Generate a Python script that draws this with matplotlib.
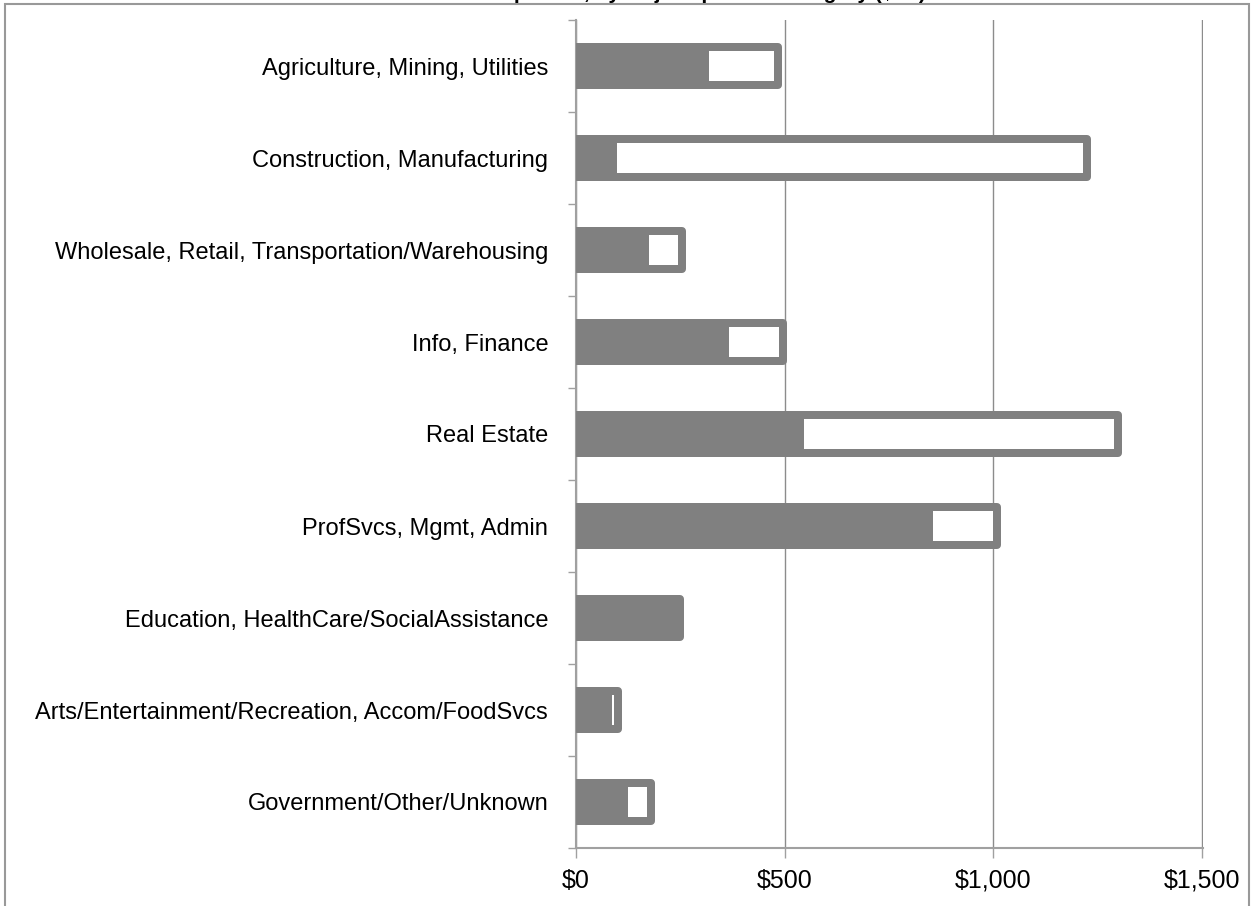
import matplotlib.pyplot as plt
from matplotlib.patches import Rectangle

categories = [
    "Agriculture, Mining, Utilities",
    "Construction, Manufacturing",
    "Wholesale, Retail, Transportation/Warehousing",
    "Info, Finance",
    "Real Estate",
    "ProfSvcs, Mgmt, Admin",
    "Education, HealthCare/SocialAssistance",
    "Arts/Entertainment/Recreation, Accom/FoodSvcs",
    "Government/Other/Unknown",
]
base_values = [309, 89, 166, 358, 537, 846, 243, 77, 115]
extra_values = [175, 1135, 88, 137, 762, 163, 6, 23, 65]
x_ticks = [0, 500, 1000, 1500]
x_labels = ["$0", "$500", "$1,000", "$1,500"]
title = "Total Exposure, by Major Sponsor Category ($bn)"

plt.rcParams['font.family'] = ['Liberation Sans Narrow', 'Liberation Sans', 'DejaVu Sans']

W, H = 1255, 906
fig = plt.figure(figsize=(W / 100, H / 100), dpi=100)
ax = fig.add_axes([576 / W, 1 - 848 / H, (1203 - 576) / W, (848 - 20) / H])

grey = '#808080'
ypos = list(range(len(categories)))
lw = 8 * 72 / 100
ax.barh(ypos, base_values, height=0.42, color=grey, edgecolor=grey,
        linewidth=lw, joinstyle='round', zorder=3)
ax.barh(ypos, extra_values, left=base_values, height=0.42, color='white',
        edgecolor=grey, linewidth=lw, joinstyle='round', zorder=3)

ax.set_xlim(0, 1502)
ax.set_ylim(len(categories) - 0.5, -0.5)
ax.set_xticks(x_ticks)
ax.set_xticklabels(x_labels, fontsize=18)
ax.set_yticks(ypos)
ax.set_yticklabels(categories, fontsize=17)
ax.tick_params(axis='y', length=0, pad=20)
ax.set_yticks([i + 0.5 for i in range(-1, len(categories))], minor=True)
ax.tick_params(axis='y', which='minor', length=6, color='#a0a0a0', width=1)
ax.tick_params(axis='x', length=7, color='#a0a0a0', width=1, pad=8)
ax.xaxis.grid(True, color='#8c8c8c', linewidth=1)
ax.set_axisbelow(True)
for s in ['top', 'right']:
    ax.spines[s].set_visible(False)
for s in ['left', 'bottom']:
    ax.spines[s].set_color('#a0a0a0')
    ax.spines[s].set_linewidth(1.5)

# outer chart frame, title sits above the visible area like in the source
fig.patches.append(Rectangle((5 / W, -0.1), (1249 - 5) / W, 1.1 - 4 / H,
                             transform=fig.transFigure, fill=False,
                             edgecolor='#999999', linewidth=1.5))
fig.text(680 / W, 1 + 1 / H, title, ha='center', va='baseline',
         fontsize=15, fontweight='bold')

plt.savefig('out.png', dpi=100)
